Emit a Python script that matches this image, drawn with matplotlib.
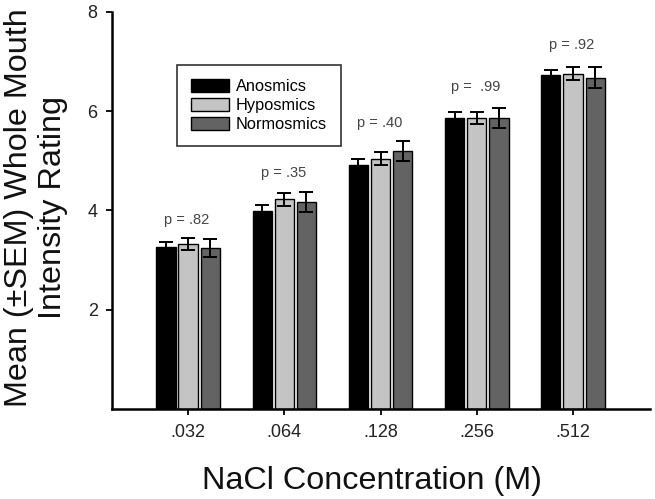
import matplotlib
matplotlib.use("Agg")
import matplotlib.pyplot as plt
import numpy as np

plt.rcParams['font.family'] = ['Liberation Sans', 'DejaVu Sans']

concentrations = ['.032', '.064', '.128', '.256', '.512']
groups = ['Anosmics', 'Hyposmics', 'Normosmics']
anosmics = [3.26, 3.98, 4.92, 5.86, 6.72]
hyposmics = [3.33, 4.22, 5.04, 5.86, 6.75]
normosmics = [3.25, 4.17, 5.19, 5.86, 6.67]
anosmics_sem = [0.10, 0.13, 0.11, 0.13, 0.11]
hyposmics_sem = [0.12, 0.13, 0.13, 0.13, 0.13]
normosmics_sem = [0.18, 0.20, 0.20, 0.20, 0.21]
p_labels = ['p = .82', 'p = .35', 'p = .40', 'p =  .99', 'p = .92']
p_label_y = [3.80, 4.75, 5.75, 6.49, 7.32]

colors = ['#000000', '#c4c4c4', '#636363']

fig = plt.figure(figsize=(6.55, 4.99), dpi=100)
ax = fig.add_axes([112/655, 1-409/499, (650-112)/655, (409-11.7)/499])

x = np.arange(len(concentrations))
width = 0.2
step = 0.23
series = [anosmics, hyposmics, normosmics]
sems = [anosmics_sem, hyposmics_sem, normosmics_sem]
for i, (vals, err, c, name) in enumerate(zip(series, sems, colors, groups)):
    pos = x + (i - 1) * step
    ax.bar(pos, vals, width, color=c, edgecolor='black', linewidth=1.0, label=name, zorder=2)
    ax.errorbar(pos, vals, yerr=err, fmt='none', ecolor='black', elinewidth=1.4,
                capsize=5, capthick=1.4, zorder=3)

for xi, lab, yv in zip(x, p_labels, p_label_y):
    ax.text(xi - 0.01, yv, lab, ha='center', va='center', fontsize=10.5, color='#444444')

ax.set_xlim(-0.79, 4.80)
ax.set_ylim(0, 8)
ax.set_yticks([2, 4, 6, 8])
ax.set_xticks(x)
ax.set_xticklabels(concentrations)
for s in ['top', 'right']:
    ax.spines[s].set_visible(False)
for s in ['left', 'bottom']:
    ax.spines[s].set_linewidth(1.8)
ax.tick_params(axis='both', direction='out', length=4.3, width=1.3, labelsize=13,
               labelcolor='#222222')
ax.tick_params(axis='y', pad=6)
ax.tick_params(axis='x', pad=6.5)

ax.set_ylabel('Mean (±SEM) Whole Mouth\nIntensity Rating', fontsize=23.3, color='#111111',
              linespacing=1.2)
ax.yaxis.set_label_coords(-0.081, 0.506)
ax.set_xlabel('NaCl Concentration (M)', fontsize=23.3, color='#111111')
ax.xaxis.set_label_coords(0.483, -0.144)

leg = ax.legend(loc='upper left', bbox_to_anchor=(177/655, 1-65/499),
                bbox_transform=fig.transFigure, fontsize=11.8, frameon=True,
                fancybox=False, borderaxespad=0, borderpad=0.85, labelspacing=0.25,
                handlelength=2.3, handleheight=0.8, handletextpad=0.45)
leg.get_frame().set_edgecolor('black')
leg.get_frame().set_linewidth(1.2)

fig.savefig('out.png', dpi=100)
